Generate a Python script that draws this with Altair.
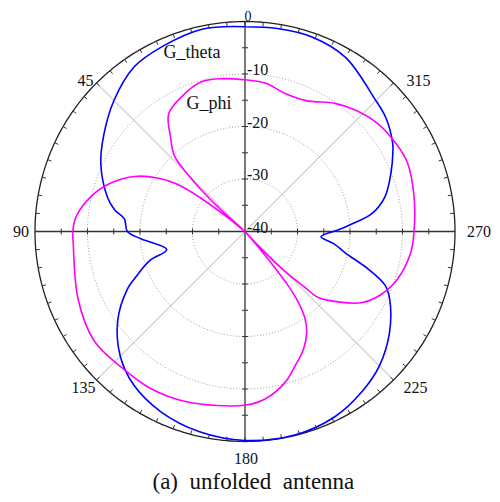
import altair as alt
import pandas as pd
import numpy as np

# ---------------- data (angle in degrees, gain in dB) ----------------
theta_deg_gtheta = [0, 12, 24, 34, 45, 56, 65, 76, 80.5, 84, 90, 94, 103, 107, 112, 116,
                    125, 135, 144, 155, 167, 180, 194, 206, 216, 225, 235, 245, 249,
                    253, 258, 262, 266, 268, 271, 274, 278, 284, 292, 298, 301, 309,
                    316, 330, 341, 351, 360]
g_theta_db = [-1.0, -0.6, -1.4, -2.2, -4.7, -7.5, -9.7, -13.0, -14.8, -16.9, -17.6, -20.1,
              -24.7, -21.0, -17.9, -15.1, -10.4, -6.4, -3.9, -2.1, -0.9, -0.2, -0.1,
              -0.8, -2.2, -3.8, -6.4, -9.6, -11.4, -15.4, -20.5, -22.8, -25.5, -24.8,
              -22.2, -19.6, -15.6, -12.5, -10.0, -8.1, -7.2, -5.5, -4.6, -1.7, -0.8,
              -0.85, -1.0]

theta_deg_gphi = [0, 8, 16, 25, 33, 38, 43, 45, 46.5, 48, 49.5, 51, 53, 55, 58.5,
                  63.5, 70, 77, 85, 90, 94, 112, 126, 137, 149, 161, 180, 187, 195,
                  200.5, 206.5, 211.5, 214.5, 217, 218.5, 219.5, 220.5, 221.5, 223,
                  225, 227, 228, 233, 238.5, 245, 252.5, 262.5, 270, 282, 293, 300,
                  309, 318, 325, 335, 344, 352, 360]
g_phi_db = [-11.1, -10.6, -10.3, -11.6, -13.3, -16.9, -20.3, -24.4, -28.4, -33.7,
            -40, -36, -29.4, -24.4, -20.5, -16.5, -12.9, -10.0, -7.7, -7.2, -7.2,
            -5.7, -4.5, -5.0, -5.1, -5.7, -6.9, -7.9, -10.3, -12.7, -15.0, -17.5,
            -19.8, -23.1, -26.7, -31.0, -36.0, -40, -36, -29.3, -24.3, -21.2, -17.7,
            -14.0, -11.5, -9.6, -8.2, -7.8, -7.1, -6.4, -6.7, -7.4, -8.8, -10.2,
            -12.5, -12.6, -11.5, -11.1]

series_names = ["G_theta", "G_phi"]
ring_db = [-10, -20, -30]
outer_db = [0]
spoke_deg = [45, 135, 225, 315]
axis_deg = [0, 90, 180, 270]
angle_label_deg = [0, 45, 90, 135, 180, 225, 270, 315]
radial_label_db = [-10, -20, -30, -40]
caption = "(a)\u00a0 unfolded\u00a0 antenna"

R_MIN, R_MAX = -40.0, 0.0

# ---------------- layout / style ----------------
PX = 210.0  # pixels per unit radius
W, H = 484, 486
CX, CY = 237.0, 223.5  # centre inside the plot area, pixels
XD = [-CX / PX, (W - CX) / PX]
YD = [-(H - CY) / PX, CY / PX]
FONT = "Liberation Serif, Times New Roman, DejaVu Serif, serif"
BLUE = "#0000ff"
MAGENTA = "#ff00ff"

xs = alt.Scale(domain=XD, nice=False, zero=False)
ys = alt.Scale(domain=YD, nice=False, zero=False)


def X(f="x"):
    return alt.X(f"{f}:Q", scale=xs, axis=None)


def Y(f="y"):
    return alt.Y(f"{f}:Q", scale=ys, axis=None)


R_EXPR = f"max(0, (datum.db - ({R_MIN})) / ({R_MAX} - ({R_MIN})))"
XE = "-datum.r * sin(datum.theta * PI / 180)"
YE = "datum.r * cos(datum.theta * PI / 180)"


def polar(ch):
    return ch.transform_calculate(r=R_EXPR).transform_calculate(x=XE, y=YE)


# curves
curves = pd.concat([
    pd.DataFrame({"series": series_names[0], "theta": theta_deg_gtheta,
                  "db": g_theta_db, "i": range(len(g_theta_db))}),
    pd.DataFrame({"series": series_names[1], "theta": theta_deg_gphi,
                  "db": g_phi_db, "i": range(len(g_phi_db))}),
])

curve_layer = polar(alt.Chart(curves)).mark_line(strokeWidth=1.6, interpolate="catmull-rom").encode(
    x=X(), y=Y(), order="i:Q",
    color=alt.Color("series:N", scale=alt.Scale(domain=series_names, range=[BLUE, MAGENTA]),
                    legend=None),
)

# rings
ang = np.arange(0, 361, 2)
rings = pd.DataFrame([{"ring": d, "theta": a, "db": d} for d in ring_db for a in ang])
ring_layer = polar(alt.Chart(rings)).mark_line(
    stroke="#888888", strokeWidth=0.8, strokeDash=[1, 2]).encode(
    x=X(), y=Y(), detail="ring:N", order="theta:Q")

outer = pd.DataFrame([{"ring": d, "theta": a, "db": d} for d in outer_db for a in np.arange(0, 360.5, 1)])
outer_layer = polar(alt.Chart(outer)).mark_line(stroke="#222222", strokeWidth=1.3).encode(
    x=X(), y=Y(), detail="ring:N", order="theta:Q")


# spokes and axes
def spoke_df(degs):
    return pd.DataFrame({"theta": degs, "db0": R_MIN, "db1": R_MAX})


def spokes(degs, color, width):
    return alt.Chart(spoke_df(degs)).transform_calculate(
        x=f"-((datum.db0 - ({R_MIN})) / ({R_MAX} - ({R_MIN}))) * sin(datum.theta * PI / 180)",
        y=f"((datum.db0 - ({R_MIN})) / ({R_MAX} - ({R_MIN}))) * cos(datum.theta * PI / 180)",
        x2=f"-((datum.db1 - ({R_MIN})) / ({R_MAX} - ({R_MIN}))) * sin(datum.theta * PI / 180)",
        y2=f"((datum.db1 - ({R_MIN})) / ({R_MAX} - ({R_MIN}))) * cos(datum.theta * PI / 180)",
    ).mark_rule(stroke=color, strokeWidth=width).encode(
        x=X(), y=Y(), x2="x2:Q", y2="y2:Q")


spoke_layer = spokes(spoke_deg, "#9a9a9a", 0.8)
axis_layer = spokes(axis_deg, "#333333", 1.3)

# outer ticks every 5 degrees (inward)
TL = 4 / PX
otick = pd.DataFrame({"theta": np.arange(0, 360, 5)})
otick_layer = alt.Chart(otick).transform_calculate(
    x="-sin(datum.theta * PI / 180)",
    y="cos(datum.theta * PI / 180)",
    x2=f"-(1 - {TL}) * sin(datum.theta * PI / 180)",
    y2=f"(1 - {TL}) * cos(datum.theta * PI / 180)",
).mark_rule(stroke="#333333", strokeWidth=1).encode(x=X(), y=Y(), x2="x2:Q", y2="y2:Q")

# axis ticks every 5 dB
HL = 3 / PX
atick = pd.DataFrame([{"theta": a, "db": d} for a in axis_deg for d in np.arange(-35, 0, 5)])
atick_layer = alt.Chart(atick).transform_calculate(r=R_EXPR).transform_calculate(
    x=f"-datum.r * sin(datum.theta * PI / 180) - {HL} * cos(datum.theta * PI / 180)",
    y=f"datum.r * cos(datum.theta * PI / 180) - {HL} * sin(datum.theta * PI / 180)",
    x2=f"-datum.r * sin(datum.theta * PI / 180) + {HL} * cos(datum.theta * PI / 180)",
    y2=f"datum.r * cos(datum.theta * PI / 180) + {HL} * sin(datum.theta * PI / 180)",
).mark_rule(stroke="#333333", strokeWidth=1).encode(x=X(), y=Y(), x2="x2:Q", y2="y2:Q")

# angle labels (anchored at the outer circle, offsets in pixels)
angle_style = {0: ("center", "alphabetic", 3, -1, 14),
               45: ("right", "middle", -3, -2, 16), 90: ("right", "middle", -6, 0, 16),
               135: ("right", "middle", -1, 8, 16), 180: ("center", "middle", 1, 17, 16),
               225: ("left", "middle", 10, 8, 16), 270: ("left", "middle", 12, 0, 16),
               315: ("left", "middle", 13, -2, 16)}
angle_layers = []
for a in angle_label_deg:
    al, bl, dx, dy, fs = angle_style[a]
    df = pd.DataFrame({"theta": [a], "db": [R_MAX], "label": [str(a)]})
    angle_layers.append(
        polar(alt.Chart(df)).mark_text(font=FONT, fontSize=fs, color="#111111", align=al,
                                       baseline=bl, dx=dx, dy=dy).encode(
            x=X(), y=Y(), text="label:N"))

# radial labels
rl = pd.DataFrame({"theta": 0, "db": radial_label_db, "label": [str(d) for d in radial_label_db]})
radial_layer = polar(alt.Chart(rl)).mark_text(
    font=FONT, fontSize=16, color="#111111", align="left", baseline="alphabetic", dx=2, dy=1
).encode(x=X(), y=Y(), text="label:N")

# series name labels (data coordinates)
names = pd.DataFrame({"label": series_names, "x": [-0.252, -0.172], "y": [0.85, 0.605]})
name_layer = alt.Chart(names).mark_text(
    font=FONT, fontSize=18, color="#111111", align="center", baseline="middle"
).encode(x=X(), y=Y(), text="label:N")

cap = pd.DataFrame({"label": [caption], "x": [0.040], "y": [YD[0]]})
cap_layer = alt.Chart(cap).mark_text(
    font=FONT, fontSize=23, color="#111111", align="center", baseline="alphabetic", dy=-5
).encode(x=X(), y=Y(), text="label:N")

chart = alt.layer(
    ring_layer, spoke_layer, axis_layer, outer_layer, otick_layer, atick_layer,
    curve_layer, *angle_layers, radial_layer, name_layer, cap_layer
).properties(
    width=W, height=H, padding=0,
    autosize=alt.AutoSizeParams(type="none"),
).configure_view(stroke=None)

chart.save("out.html", embed_options={"renderer": "svg", "actions": False})
